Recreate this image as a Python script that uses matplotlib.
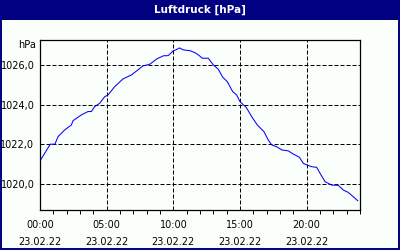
import numpy as np
import matplotlib
matplotlib.use('Agg')
from matplotlib import pyplot as plt
from matplotlib.patches import Rectangle
from matplotlib.ticker import FixedLocator, FuncFormatter

# Stunden seit Mitternacht und Luftdruck (hPa)
hours = [0.0, 0.77, 1.12, 1.35, 1.85, 2.35, 2.48, 3.1, 3.6, 3.85, 4.1, 4.48,
         4.85, 5.1, 5.6, 6.22, 6.85, 7.35, 7.72, 8.05, 8.25, 8.75, 9.25, 9.62,
         10.0, 10.2, 10.45, 10.75, 11.25, 11.62, 11.87, 12.17, 12.62, 13.0,
         13.37, 13.7, 14.05, 14.45, 14.75, 15.0, 15.47, 15.88, 16.3, 16.8,
         17.12, 17.38, 17.75, 18.13, 18.62, 19.0, 19.45, 19.75, 20.08, 20.38,
         20.75, 21.0, 21.38, 21.88, 22.37, 22.75, 23.12, 23.5, 23.83]
pressure = [1021.15, 1022.0, 1022.0, 1022.38, 1022.72, 1022.97, 1023.19,
            1023.48, 1023.65, 1023.65, 1023.9, 1024.07, 1024.4, 1024.49,
            1024.91, 1025.3, 1025.5, 1025.76, 1025.96, 1026.01, 1026.05,
            1026.31, 1026.47, 1026.48, 1026.73, 1026.77, 1026.87, 1026.77,
            1026.73, 1026.63, 1026.52, 1026.35, 1026.35, 1026.01, 1025.79,
            1025.39, 1025.16, 1024.66, 1024.49, 1024.15, 1023.86, 1023.39,
            1022.97, 1022.63, 1022.21, 1021.96, 1021.87, 1021.71, 1021.66,
            1021.5, 1021.34, 1021.03, 1020.93, 1020.86, 1020.83, 1020.53,
            1020.1, 1019.93, 1019.92, 1019.68, 1019.56, 1019.34, 1019.14]
x_ticks = [0, 5, 10, 15, 20]
x_labels = ['00:00\n23.02.22', '05:00\n23.02.22', '10:00\n23.02.22',
            '15:00\n23.02.22', '20:00\n23.02.22']
y_ticks = [1020, 1022, 1024, 1026]

navy = '#000080'
fig = plt.figure(figsize=(4, 2.5), dpi=100, facecolor='#fbfffb')

# Titelbalken und Rahmen
fig.patches.append(Rectangle((0, 0.92), 1, 0.08, transform=fig.transFigure,
                             facecolor=navy, edgecolor='none'))
fig.patches.append(Rectangle((0.0015, 0.003), 0.997, 0.994, transform=fig.transFigure,
                             facecolor='none', edgecolor=navy, linewidth=1.4))
fig.text(0.5, 0.96, 'Luftdruck [hPa]', color='white', fontsize=7.5,
         fontweight='bold', ha='center', va='center')

ax = fig.add_axes([0.1, 0.16, 0.8, 0.68])
ax.set_facecolor('#fbfffb')
ax.plot(hours, pressure, color='#0000ff', linewidth=0.75)

ax.set_xlim(0, 24)
ax.set_ylim(1018.67, 1027.27)
ax.set_xticks(x_ticks)
ax.set_xticklabels(x_labels, linespacing=1.9)
ax.xaxis.set_minor_locator(FixedLocator(np.arange(0, 25, 1)))
ax.set_yticks(y_ticks)
ax.yaxis.set_major_formatter(FuncFormatter(lambda v, p: f'{v:.1f}'.replace('.', ',')))

ax.grid(True, color='black', linestyle=(0, (4, 2)), linewidth=0.72)
ax.tick_params(axis='x', which='major', length=0, pad=7, labelsize=7)
ax.tick_params(axis='x', which='minor', length=3, width=0.72, direction='out')
ax.tick_params(axis='y', length=0, pad=4, labelsize=7)
for s in ax.spines.values():
    s.set_linewidth(0.9)

fig.text(0.09, 0.82, 'hPa', fontsize=7, ha='right', va='center')

fig.savefig('out.png', dpi=100, facecolor=fig.get_facecolor())
